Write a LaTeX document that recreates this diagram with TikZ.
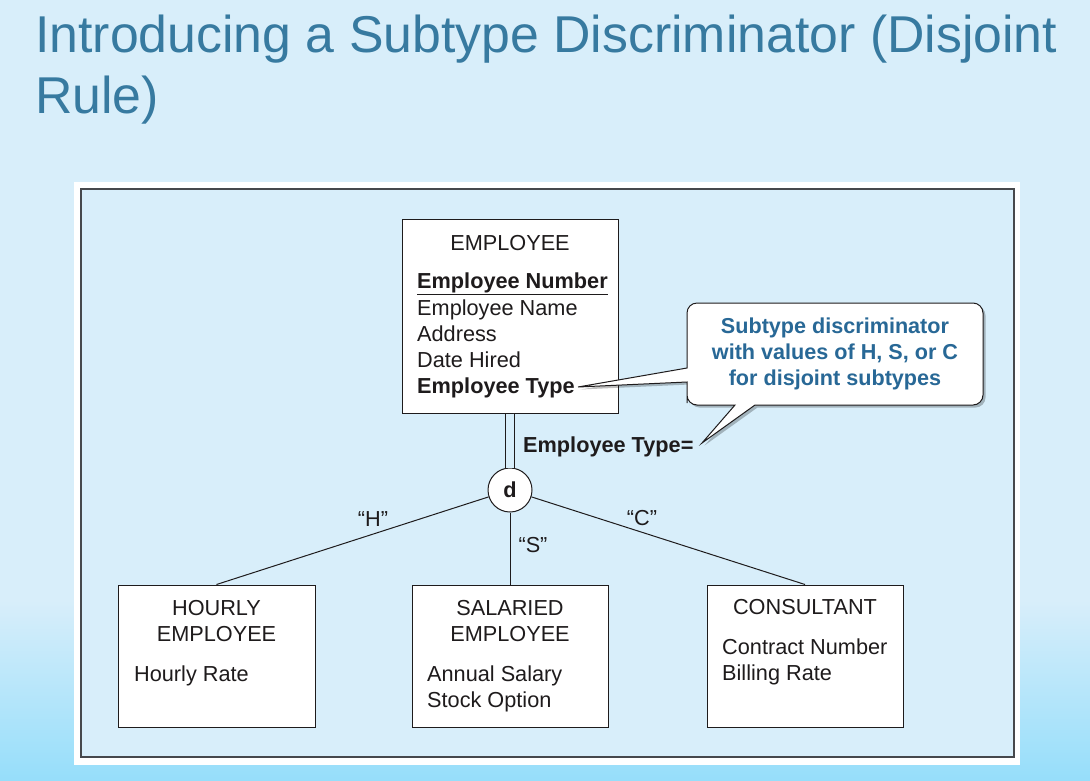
\documentclass[tikz,border=0pt]{standalone}
\usepackage{fontspec}
\setmainfont{Liberation Sans}
\usetikzlibrary{shadows}
\definecolor{bgtop}{RGB}{216,238,250}
\definecolor{bgbot}{RGB}{150,222,250}
\definecolor{titleblue}{RGB}{55,122,160}
\definecolor{callblue}{RGB}{40,104,150}
\definecolor{ink}{RGB}{30,27,28}
\definecolor{frameline}{RGB}{70,72,76}
\begin{document}
\begin{tikzpicture}[x=1pt,y=-1pt,
  box/.style={draw=ink, line width=1pt, fill=white, inner sep=0pt},
  txt/.style={font=\fontsize{21.7}{25}\selectfont, text=ink, inner sep=0pt, anchor=base west},
  ctxt/.style={txt, anchor=base},
  btxt/.style={font=\fontsize{21.7}{25}\bfseries\selectfont, text=ink, inner sep=0pt, anchor=base west},
  calltxt/.style={font=\fontsize{21.6}{25}\bfseries\selectfont, text=callblue, inner sep=0pt, anchor=base},
  titletxt/.style={font=\fontsize{51.8}{60}\selectfont, text=titleblue, inner sep=0pt, anchor=base west},
  conn/.style={draw=ink, line width=1pt}
]
\useasboundingbox (0,0) rectangle (1090,780);
\fill[bgtop] (0,0) rectangle (1090,780);
\shade[top color=bgtop, bottom color=bgbot] (0,600) rectangle (1090,780.5);
\fill[white] (74,182) rectangle (1020,765);
\draw[frameline, line width=1.4pt, fill=bgtop] (81,189) rectangle (1014,757);

% title
\node[titletxt] (t1) at (35,52) {Introducing a Subtype Discriminator (Disjoint};
\node[titletxt] (t2) at (35,113) {Rule)};

% supertype
\node[box, minimum width=216pt, minimum height=194pt] (emp) at (510,316) {};
\node[ctxt] (empn) at (510,250) {EMPLOYEE};
\node[btxt] (ea1) at (417,288) {\underline{Employee Number}};
\node[txt] (ea2) at (417,315) {Employee Name};
\node[txt] (ea3) at (417,341) {Address};
\node[txt] (ea4) at (417,367) {Date Hired};
\node[btxt] (ea5) at (417,393) {Employee Type};

% subtypes
\node[box, minimum width=197pt, minimum height=142pt] (hourly) at (216.5,656) {};
\node[ctxt] (hn1) at (216.5,615) {HOURLY};
\node[ctxt] (hn2) at (216.5,641) {EMPLOYEE};
\node[txt] (ha1) at (134,681) {Hourly Rate};

\node[box, minimum width=196pt, minimum height=142pt] (salaried) at (510,656) {};
\node[ctxt] (sn1) at (510,615) {SALARIED};
\node[ctxt] (sn2) at (510,641) {EMPLOYEE};
\node[txt] (sa1) at (427,681) {Annual Salary};
\node[txt] (sa2) at (427,707) {Stock Option};

\node[box, minimum width=196pt, minimum height=142pt] (consult) at (805,656) {};
\node[ctxt] (cn1) at (805,614) {CONSULTANT};
\node[txt] (ca1) at (722,654) {Contract Number};
\node[txt] (ca2) at (722,680) {Billing Rate};

% discriminator circle
\node[draw=ink, fill=white, circle, minimum size=44pt, inner sep=0pt, line width=1pt,
      font=\fontsize{21.7}{25}\bfseries\selectfont, text=ink] (d) at (510,490) {d};
\draw[ink, line width=0.9pt, double=bgtop, double distance=7.5pt] (emp.south) -- (d.north);
\draw[conn] (d) -- (hourly.north);
\draw[conn] (d) -- (salaried.north);
\draw[conn] (d) -- (consult.north);

\node[ctxt] (lh) at (373,526) {“H”};
\node[ctxt] (ls) at (533,552) {“S”};
\node[ctxt] (lc) at (642,525) {“C”};
\node[btxt] (etype) at (523,452) {Employee Type=};

% callout
\coordinate (tip1) at (578,387);
\coordinate (tip2) at (702,443);
\draw[ink, line width=1pt, fill=white,
      drop shadow={shadow xshift=2.5pt, shadow yshift=-2.5pt, opacity=0.25, fill=black},
      rounded corners=10pt]
  (760,303) -- (983,303) -- (983,405) -- (770,405) [sharp corners] -- (755,405) -- (tip2)
  -- (735,405) -- (720,405) [rounded corners=10pt] -- (687,405) -- (687,393)
  [sharp corners] -- (687,382) -- (tip1) -- (687,368) -- (687,355)
  [rounded corners=10pt] -- (687,303) -- cycle;
\node[calltxt] (c1) at (835,333) {Subtype discriminator};
\node[calltxt] (c2) at (835,359) {with values of H, S, or C};
\node[calltxt] (c3) at (835,385) {for disjoint subtypes};
\end{tikzpicture}
\end{document}
